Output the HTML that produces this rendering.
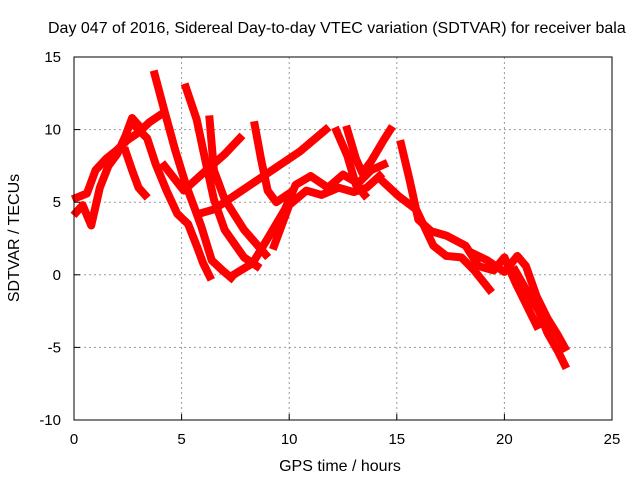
<!DOCTYPE html>
<html><head><meta charset="utf-8"><style>
body{margin:0;background:#fff}
svg{display:block;font-family:"Liberation Sans",sans-serif}
</style></head><body>
<svg id="chart" width="640" height="480" viewBox="0 0 640 480">
<text x="48" y="33" font-size="16" fill="#000">Day 047 of 2016, Sidereal Day-to-day VTEC variation (SDTVAR) for receiver bala</text>
<g id="grid"></g>
<g id="series"></g>
<rect x="74" y="57" width="538" height="363" fill="none" stroke="#000" stroke-width="1"/>
<g id="ticks"></g>
<text x="340" y="471" font-size="16" text-anchor="middle">GPS time / hours</text>
<text transform="translate(19,238) rotate(-90)" font-size="16" text-anchor="middle">SDTVAR / TECUs</text>
</svg>
<script>
const xTicks=[0,5,10,15,20,25];
const yTicks=[-10,-5,0,5,10,15];
const tracks=[
[[0.1,4.3],[0.4,4.8],[0.8,3.4],[1.2,6],[1.6,7.5],[2.0,8.3],[2.4,9.6],[2.7,10.8],[3.0,10.3]],
[[0.1,5.3],[0.6,5.6],[1.0,7.2],[1.5,8.0],[2.0,8.6],[2.5,9.3],[3.0,9.8],[3.5,10.5],[4.0,11.0]],
[[2.4,8.5],[2.7,7.2],[3.0,6.0],[3.3,5.5]],
[[2.8,10.3],[3.4,9.4],[3.8,7.6],[4.3,5.8],[4.8,4.2],[5.3,3.5],[5.7,2.0],[6.0,0.8],[6.3,-0.1]],
[[3.75,13.8],[4.2,11.3],[4.7,8.6],[5.2,6.2],[5.9,3.4],[6.4,1.0],[6.9,0.3],[7.3,-0.2]],
[[5.2,12.9],[5.7,10.7],[6.1,7.9],[6.5,5.2],[7.0,3.1],[7.9,1.2],[8.5,0.6]],
[[6.3,10.7],[6.5,7.2],[7.0,5.2],[7.9,3.1],[8.9,1.4]],
[[8.4,10.3],[8.7,7.9],[9.0,5.8],[9.4,5.0],[10,5.6]],
[[4.2,7.5],[5.1,5.8],[6,7.0],[7.0,8.3],[7.7,9.4]],
[[5.8,4.2],[6.5,4.5],[8,6.0],[9.5,7.5],[10.5,8.5],[11.7,10]],
[[7.3,-0.1],[8.3,0.8],[9.0,2.5],[9.8,4.5],[10.3,6.2],[11,6.8],[11.8,6.0],[12.5,6.9],[13.2,6.3],[13.8,7.2],[14.4,7.6]],
[[9.3,2.0],[10,4.8],[10.8,5.8],[11.5,5.5],[12.3,6.0],[13,5.7],[13.6,6.0],[14.2,6.8]],
[[12.7,10.0],[13.1,8.0],[13.4,7.0],[13.8,7.8],[14.4,9.3],[14.7,10]],
[[12.2,9.9],[12.7,8.2],[13.1,6.2],[13.5,5.5]],
[[14.3,6.5],[15.1,5.4],[15.9,4.5],[16.7,2.0],[17.3,1.3],[18.0,1.2],[18.6,0.3],[19.3,-1.0]],
[[15.2,9.0],[15.6,6.5],[16.0,3.8],[16.6,3.0],[17.3,2.7],[18.2,2.0],[18.8,0.6],[19.5,0.3],[20.0,1.2],[20.5,-0.5],[21.0,-2.0],[21.5,-3.5]],
[[18.5,1.5],[19.2,1.0],[20.0,0.2],[20.6,1.3],[21.0,0.6],[21.5,-1.5],[22.0,-3.0],[22.5,-4.2],[22.8,-5.0]],
[[20.5,0.3],[21.0,-1.0],[21.6,-2.5],[22.0,-4.0],[22.5,-5.3],[22.8,-6.2]]
];
const NS="http://www.w3.org/2000/svg";
const X=t=>74+t*(538/25);
const Y=v=>420-(v+10)*(363/25);
const grid=document.getElementById('grid'),ticks=document.getElementById('ticks'),ser=document.getElementById('series');
function mk(tag,attrs,parent){const e=document.createElementNS(NS,tag);for(const k in attrs)e.setAttribute(k,attrs[k]);parent.appendChild(e);return e;}
xTicks.forEach(t=>{
  if(t>0&&t<25){const l=mk('line',{x1:X(t),x2:X(t),y1:57,y2:420,stroke:'#999','stroke-dasharray':'2,3'},grid);
  
  }
  const tk=mk('line',{x1:X(t),x2:X(t),y1:420,y2:414,stroke:'#000'},ticks);
  
  
  const tx=mk('text',{x:X(t),y:444,'font-size':15,'text-anchor':'middle'},ticks);tx.textContent=t;
  
  
});
yTicks.forEach(v=>{
  if(v>-10&&v<15){const l=mk('line',{x1:74,x2:612,y1:Y(v),y2:Y(v),stroke:'#999','stroke-dasharray':'2,3'},grid);
  
  }
  const tk=mk('line',{x1:74,x2:80,y1:Y(v),y2:Y(v),stroke:'#000'},ticks);
  
  
  const tx=mk('text',{x:61,y:Y(v)+5,'font-size':15,'text-anchor':'end'},ticks);tx.textContent=v;
  
  
});
tracks.forEach(tr=>{
  const p=mk('polyline',{points:tr.map(d=>X(d[0])+','+Y(d[1])).join(' '),fill:'none',stroke:'#ff0000','stroke-width':8,'stroke-linejoin':'round','stroke-linecap':'square'},ser);
  
  
});
</script>
</body></html>
